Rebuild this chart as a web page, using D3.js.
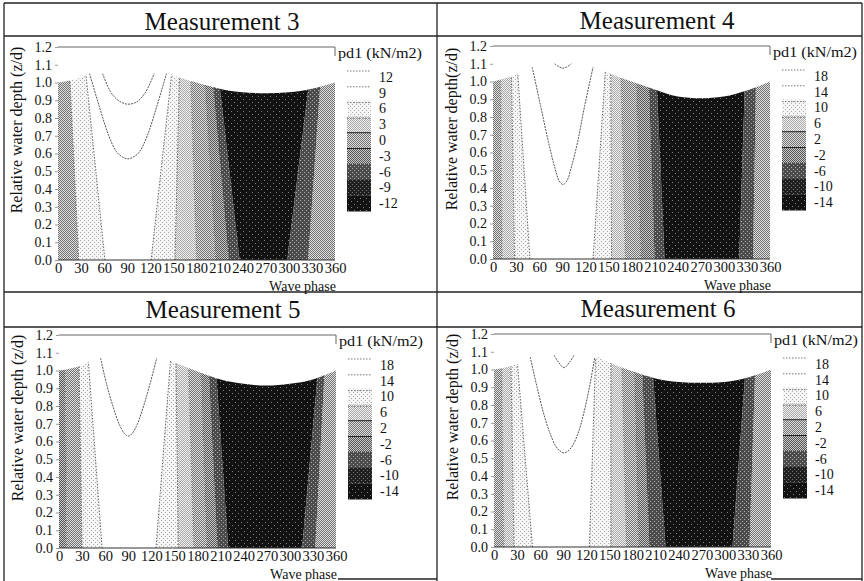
<!DOCTYPE html>
<html>
<head>
<meta charset="utf-8">
<script src="https://cdnjs.cloudflare.com/ajax/libs/d3/7.8.5/d3.min.js"></script>
<style>
  body { margin: 0; background: #fff; }
  svg { display: block; }
</style>
</head>
<body>
<div id="chart"></div>
<script>
// ---- values ----
var titles = ['Measurement 3', 'Measurement 4', 'Measurement 5', 'Measurement 6'];
var yTitles = ['Relative water depth (z/d)', 'Relative water depth(z/d)', 'Relative water depth (z/d)', 'Relative water depth (z/d)'];
var phaseTicks = [0, 30, 60, 90, 120, 150, 180, 210, 240, 270, 300, 330, 360];
var depthTicks = [0, 0.1, 0.2, 0.3, 0.4, 0.5, 0.6, 0.7, 0.8, 0.9, 1.0, 1.1, 1.2];
var legendLevelsM3 = ['12', '9', '6', '3', '0', '-3', '-6', '-9', '-12'];
var legendLevelsM456 = ['18', '14', '10', '6', '2', '-2', '-6', '-10', '-14'];

// free surface (z/d) at every phase tick
var surfaceM3 = [1.00, 1.03, 1.10, 1.13, 1.10, 1.04, 1.00, 0.965, 0.945, 0.94, 0.945, 0.965, 1.00];
var surfaceM4 = [1.00, 1.04, 1.12, 1.15, 1.12, 1.05, 1.00, 0.955, 0.915, 0.905, 0.915, 0.95, 1.00];
var surfaceM5 = [1.00, 1.03, 1.10, 1.13, 1.10, 1.045, 0.995, 0.95, 0.925, 0.915, 0.925, 0.95, 1.00];
var surfaceM6 = [1.00, 1.03, 1.10, 1.13, 1.10, 1.04, 0.99, 0.95, 0.93, 0.925, 0.93, 0.955, 1.00];

// band edges: phase where each contour meets the bed (z=0) and the top (z=1.06)
var edgeBedM3 = [27, 61, 121, 152, 180, 205, 222, 236, 298, 325];
var edgeTopM3 = [15, 36, 148, 158, 172, 190, 200, 208, 328, 342];
var edgeBedM4 = [12, 28, 48, 130, 154, 172, 192, 210, 223, 320, 338];
var edgeTopM4 = [10, 24, 32, 146, 153, 166, 186, 202, 212, 328, 342];
var edgeBedM5 = [10, 30, 56, 126, 155, 175, 192, 206, 220, 316, 333];
var edgeTopM5 = [8, 26, 38, 145, 152, 168, 184, 194, 203, 338, 346];
var edgeBedM6 = [13, 26, 50, 124, 152, 172, 188, 202, 223, 310, 332];
var edgeTopM6 = [10, 22, 30, 132, 152, 166, 182, 192, 205, 328, 340];

// legend row of each band from left to right
var bandLevelM3 = [4, 2, 0, 2, 3, 4, 5, 6, 8, 6, 4];
var bandLevelM4 = [4, 3, 2, 0, 2, 3, 4, 5, 6, 8, 6, 4];
var bandLevelM5 = [5, 4, 2, 0, 2, 3, 4, 5, 6, 8, 6, 4];
var bandLevelM6 = [4, 3, 2, 0, 2, 3, 4, 5, 6, 8, 6, 4];

// closed contours under the crest, [phase, z/d]
var loopsM3 = [
  [[41, 1.05], [54, 0.86], [66, 0.70], [76, 0.61], [84, 0.58], [91, 0.57], [98, 0.58], [106, 0.61], [116, 0.70], [128, 0.86], [141, 1.05]],
  [[58, 1.05], [68, 0.95], [78, 0.90], [90, 0.878], [102, 0.89], [113, 0.94], [125, 1.05]]
];
var loopsM4 = [
  [[51, 1.08], [62, 0.86], [72, 0.66], [80, 0.52], [86, 0.44], [91, 0.42], [96, 0.44], [102, 0.52], [110, 0.66], [119, 0.86], [130, 1.08]],
  [[80, 1.10], [85, 1.085], [91, 1.075], [97, 1.085], [102, 1.10]]
];
var loopsM5 = [
  [[54, 1.07], [62, 0.92], [70, 0.80], [78, 0.70], [85, 0.645], [90, 0.63], [95, 0.645], [102, 0.70], [110, 0.80], [118, 0.92], [127, 1.07]]
];
var loopsM6 = [
  [[47, 1.07], [56, 0.90], [64, 0.76], [72, 0.65], [80, 0.57], [86, 0.54], [91, 0.53], [96, 0.54], [102, 0.57], [110, 0.65], [117, 0.76], [124, 0.90], [131, 1.07]],
  [[78, 1.08], [84, 1.04], [91, 1.01], [98, 1.04], [104, 1.08]]
];

//################################ STYLE / LAYOUT ######################
// halftone look of the scan: [background, dot colour, cell size]
var toneSpec = [
  ['#ffffff', null, 0],
  ['#ffffff', null, 0],
  ['#f5f5f5', '#adadad', 2],
  ['#f0f0f0', '#aaaaaa', 1],
  ['#e0e0e0', '#727272', 1],
  ['#c8c8c8', '#565656', 1],
  ['#4b4b4b', '#ababab', 2],
  ['#202020', '#707070', 2],
  ['#121212', '#7e7e7e', 3]
];
var panelOrigin = [[0, 0], [435, -1], [1, 288], [436, 287]];
var font = "'Liberation Serif', 'Times New Roman', serif";
var zTop = 1.06;

var panels = [
  { title: titles[0], yTitle: yTitles[0], levels: legendLevelsM3, surface: surfaceM3, bed: edgeBedM3, top: edgeTopM3, bands: bandLevelM3, loops: loopsM3 },
  { title: titles[1], yTitle: yTitles[1], levels: legendLevelsM456, surface: surfaceM4, bed: edgeBedM4, top: edgeTopM4, bands: bandLevelM4, loops: loopsM4 },
  { title: titles[2], yTitle: yTitles[2], levels: legendLevelsM456, surface: surfaceM5, bed: edgeBedM5, top: edgeTopM5, bands: bandLevelM5, loops: loopsM5 },
  { title: titles[3], yTitle: yTitles[3], levels: legendLevelsM456, surface: surfaceM6, bed: edgeBedM6, top: edgeTopM6, bands: bandLevelM6, loops: loopsM6 }
];

var svg = d3.select('#chart').append('svg')
  .attr('width', 864)
  .attr('height', 581)
  .attr('font-family', font)
  .style('background', '#fff');

//################################ PATTERNS ######################
var defs = svg.append('defs');
var toneFill = toneSpec.map(function (t, k) {
  if (!t[1]) return t[0];
  var s = t[2];
  var pat = defs.append('pattern')
    .attr('id', 'tone' + k)
    .attr('patternUnits', 'userSpaceOnUse')
    .attr('width', s * 2).attr('height', s * 2);
  pat.append('rect').attr('width', s * 2).attr('height', s * 2).attr('fill', t[0]);
  pat.append('rect').attr('x', 0).attr('y', 0).attr('width', 1).attr('height', 1).attr('fill', t[1]);
  pat.append('rect').attr('x', s).attr('y', s).attr('width', 1).attr('height', 1).attr('fill', t[1]);
  return 'url(#tone' + k + ')';
});

//################################ TABLE LINES ######################
var grid = svg.append('g').attr('stroke', '#222').attr('fill', 'none');
[[4, 3, 862, 3], [4, 36, 862, 36], [4, 292, 862, 292], [4, 327, 862, 327],
 [4, 3, 4, 581], [437, 3, 437, 581], [862, 3, 862, 581],
 [338, 579, 437, 579], [771, 579, 862, 579]].forEach(function (l) {
  grid.append('line').attr('x1', l[0]).attr('y1', l[1]).attr('x2', l[2]).attr('y2', l[3])
    .attr('stroke-width', 1.3);
});

//################################ PANELS ######################
panels.forEach(function (p, i) {
  var ox = panelOrigin[i][0], oy = panelOrigin[i][1];
  var g = svg.append('g').attr('transform', 'translate(' + ox + ',' + oy + ')');

  var x = d3.scaleLinear().domain([0, 360]).range([58, 335]);
  var y = d3.scaleLinear().domain([0, 1.2]).range([260, 47]);

  // title
  g.append('text')
    .attr('x', 222).attr('y', 30)
    .attr('text-anchor', 'middle')
    .attr('font-size', 25)
    .attr('fill', '#111')
    .text(p.title);

  // clip to the water under the free surface
  var clipId = 'water' + i;
  var surfPts = phaseTicks.map(function (ph, k) { return [ph, p.surface[k]]; });
  var area = d3.area()
    .x(function (d) { return x(d[0]); })
    .y0(y(0))
    .y1(function (d) { return y(d[1]); })
    .curve(d3.curveMonotoneX);
  g.append('clipPath').attr('id', clipId)
    .append('path').attr('d', area(surfPts));

  var plot = g.append('g').attr('clip-path', 'url(#' + clipId + ')');
  var line = d3.line().x(function (d) { return x(d[0]); }).y(function (d) { return y(d[1]); });
  var curve = d3.line().x(function (d) { return x(d[0]); }).y(function (d) { return y(d[1]); }).curve(d3.curveCatmullRom);

  // filled bands between consecutive contour edges
  var nEdge = p.bed.length;
  function edge(k) {
    if (k < 0) return [[0, 0], [0, 1.25]];
    if (k >= nEdge) return [[360, 0], [360, 1.25]];
    return [[p.bed[k], 0], [p.top[k], zTop], [p.top[k], 1.25]];
  }
  p.bands.forEach(function (lev, b) {
    var pts = edge(b - 1).concat(edge(b).slice().reverse());
    plot.append('path')
      .attr('d', line(pts) + 'Z')
      .attr('fill', toneFill[lev]);
  });

  // contour lines: dotted in the light region, faint dark between greys
  p.bed.forEach(function (ph, k) {
    var l = p.bands[k], r = p.bands[k + 1];
    var light = Math.min(l, r) <= 2;
    plot.append('path')
      .attr('d', line([[p.bed[k], 0], [p.top[k], zTop]]))
      .attr('fill', 'none')
      .attr('stroke', light ? '#666' : '#444')
      .attr('stroke-width', light ? 1 : 0.6)
      .attr('stroke-dasharray', light ? '1.5,1.5' : '1,2');
  });

  p.loops.forEach(function (lp) {
    plot.append('path')
      .attr('d', curve(lp))
      .attr('fill', 'none')
      .attr('stroke', '#555')
      .attr('stroke-width', 1)
      .attr('stroke-dasharray', '2,1');
  });

  // bed line and top frame
  g.append('line')
    .attr('x1', x(0)).attr('x2', x(360)).attr('y1', y(0)).attr('y2', y(0))
    .attr('stroke', '#333').attr('stroke-width', 1.2);
  g.append('path')
    .attr('d', 'M' + x(0) + ',' + y(1.2) + 'H' + x(360) + 'V' + (y(1.2) + 9))
    .attr('fill', 'none').attr('stroke', '#666').attr('stroke-width', 1);

  // axes
  var yAxis = d3.axisLeft(y).tickValues(depthTicks).tickFormat(d3.format('.1f')).tickSize(3).tickPadding(3);
  var ya = g.append('g').attr('transform', 'translate(' + x(0) + ',0)').call(yAxis);
  var xAxis = d3.axisBottom(x).tickValues(phaseTicks).tickFormat(d3.format('d')).tickSize(0).tickPadding(3);
  var xa = g.append('g').attr('transform', 'translate(0,' + y(0) + ')').call(xAxis);
  [ya, xa].forEach(function (a) {
    a.attr('font-family', font);
    a.select('.domain').remove();
    a.selectAll('line').attr('stroke', '#999');
    a.selectAll('text').attr('font-size', 14).attr('fill', '#111');
  });
  xa.selectAll('text').attr('font-size', 14.5);

  g.append('text')
    .attr('x', x(360) + 1).attr('y', y(0) + 31)
    .attr('text-anchor', 'end')
    .attr('font-size', 14)
    .attr('fill', '#111')
    .text('Wave phase');

  g.append('text')
    .attr('transform', 'translate(22,130) rotate(-90)')
    .attr('text-anchor', 'middle')
    .attr('font-size', 16)
    .attr('fill', '#111')
    .text(p.yTitle);

  // legend
  var lx = x(360);
  g.append('text')
    .attr('x', lx + 3).attr('y', 58)
    .attr('font-size', 14)
    .attr('textLength', 84)
    .attr('lengthAdjust', 'spacingAndGlyphs')
    .attr('fill', '#111')
    .text('pd1 (kN/m2)');

  var rowH = 15.8, ly = 69;
  var leg = g.append('g');
  p.levels.forEach(function (lab, k) {
    leg.append('rect')
      .attr('x', lx + 12).attr('y', ly + k * rowH)
      .attr('width', 24).attr('height', rowH + 0.3)
      .attr('fill', toneFill[k]);
    if (k < 4) {
      leg.append('line')
        .attr('x1', lx + 12).attr('x2', lx + 36)
        .attr('y1', ly + k * rowH + 2).attr('y2', ly + k * rowH + 2)
        .attr('stroke', '#777').attr('stroke-dasharray', '1.5,1.5');
    } else if (k < 6) {
      leg.append('line')
        .attr('x1', lx + 12).attr('x2', lx + 36)
        .attr('y1', ly + k * rowH + 0.5).attr('y2', ly + k * rowH + 0.5)
        .attr('stroke', '#222');
    }
    leg.append('text')
      .attr('x', lx + 44).attr('y', ly + k * rowH + rowH / 2)
      .attr('dy', '0.35em')
      .attr('font-size', 14)
      .attr('fill', '#111')
      .text(lab);
  });
});
</script>
</body>
</html>
